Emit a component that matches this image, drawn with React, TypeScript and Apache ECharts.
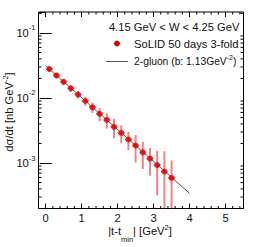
import React, { useEffect, useRef } from "react";
import * as echarts from "echarts";

// ---- data ----
const T_VALUES = [0.1, 0.3, 0.5, 0.7, 0.9, 1.1, 1.3, 1.5, 1.7, 1.9, 2.1, 2.3, 2.5, 2.7, 2.9, 3.1, 3.3, 3.5];
const DSDT = [0.0279, 0.0222, 0.0177, 0.0141, 0.0113, 0.009, 0.0072, 0.0057, 0.0046, 0.0036, 0.0029, 0.0023, 0.00186, 0.00146, 0.00117, 0.00093, 0.00074, 0.00059];
const DSDT_ERR = [0.0028, 0.0023, 0.0019, 0.0017, 0.0015, 0.0014, 0.0013, 0.0013, 0.0012, 0.0012, 0.00088, 0.00072, 0.00084, 0.00065, 0.00053, 0.00061, 0.00078, 0.0005];
const T_ERR = [0.1, 0.1, 0.1, 0.1, 0.1, 0.1, 0.1, 0.1, 0.1, 0.1, 0.1, 0.1, 0.1, 0.1, 0.1, 0.1, 0.1, 0.1];

const FIT_T = [0, 4];
const FIT_Y = [0.0313, 0.000342];

const X_MAJOR = [0, 1, 2, 3, 4, 5];
const X_MINOR = [-0.2, 0.2, 0.4, 0.6, 0.8, 1.2, 1.4, 1.6, 1.8, 2.2, 2.4, 2.6, 2.8, 3.2, 3.4, 3.6, 3.8, 4.2, 4.4, 4.6, 4.8, 5.2, 5.4];
const Y_MINOR = [
  0.0002, 0.0003, 0.0004, 0.0005, 0.0006, 0.0007, 0.0008, 0.0009,
  0.002, 0.003, 0.004, 0.005, 0.006, 0.007, 0.008, 0.009,
  0.02, 0.03, 0.04, 0.05, 0.06, 0.07, 0.08, 0.09, 0.2,
];

const XMIN = -0.2;
const XMAX = 5.5;
const YMIN = 0.0002;
const YMAX = 0.21;

const FONT = "'Liberation Sans', Arial, Helvetica, sans-serif";
const TXT = "#111";
const FS = 11.2;

const mainSt = (fs: number) => ({ fontSize: fs, fill: TXT, color: TXT, fontFamily: FONT, verticalAlign: "middle" });
const main = mainSt(FS);
const sup = (shift: number, fs = 7.5) => ({ fontSize: fs, fill: TXT, color: TXT, fontFamily: FONT, verticalAlign: "middle", padding: [0, 0, shift * 2, 0] });
const sub = (shift: number) => ({ fontSize: 7.5, fill: TXT, color: TXT, fontFamily: FONT, verticalAlign: "middle", padding: [shift * 2, 0, 0, 0] });

export default function App() {
  const ref = useRef<HTMLDivElement>(null);

  useEffect(() => {
    if (!ref.current) return;
    const chart = echarts.init(ref.current, null, { renderer: "svg" });

    const errData = T_VALUES.map((t, i) => [t, DSDT[i], DSDT_ERR[i], T_ERR[i]]);
    const pts = T_VALUES.map((t, i) => [t, DSDT[i]]);
    const fit = FIT_T.map((t, i) => [t, FIT_Y[i]]);

    const option: any = {
      animation: false,
      textStyle: { fontFamily: FONT },
      grid: {
        left: 38.5,
        right: 13.5,
        top: 12,
        bottom: 38.5,
        show: true,
        borderColor: "#000",
        borderWidth: 1,
        backgroundColor: "transparent",
      },
      xAxis: [
        {
          type: "value",
          position: "bottom",
          min: XMIN,
          max: XMAX,
          axisLine: { show: false },
          splitLine: { show: false },
          axisTick: { inside: true, length: 5, customValues: X_MAJOR, lineStyle: { color: "#000" } },
          axisLabel: { customValues: X_MAJOR, fontSize: FS, color: TXT, margin: 4, fontFamily: FONT },
        },
        {
          type: "value",
          position: "top",
          min: XMIN,
          max: XMAX,
          axisLine: { show: false },
          splitLine: { show: false },
          axisTick: { inside: true, length: 5, customValues: X_MAJOR, lineStyle: { color: "#000" } },
          axisLabel: { show: false },
        },
      ],
      yAxis: [
        {
          type: "log",
          logBase: 10,
          position: "left",
          min: YMIN,
          max: YMAX,
          axisLine: { show: false },
          splitLine: { show: false },
          axisTick: { inside: true, length: 6, lineStyle: { color: "#000" } },
          axisLabel: {
            showMinLabel: false,
            showMaxLabel: false,
            margin: 3,
            formatter: (v: number) => `{b|10}{s|-${Math.abs(Math.round(Math.log10(v)))}}`,
            rich: { b: main, s: sup(5) },
          },
        },
        {
          type: "log",
          logBase: 10,
          position: "right",
          min: YMIN,
          max: YMAX,
          axisLine: { show: false },
          splitLine: { show: false },
          axisTick: { inside: true, length: 6, lineStyle: { color: "#000" } },
          axisLabel: { show: false },
        },
      ],
      graphic: [
        {
          type: "text",
          x: 140,
          y: 231,
          style: {
            text: "{m||t-t}{b|min}{m|| [GeV}{s|2}{m|]}",
            align: "center",
            verticalAlign: "middle",
            rich: { m: main, b: sub(8.5), s: sup(4) },
          },
        },
        {
          type: "text",
          x: 9,
          y: 112,
          rotation: Math.PI / 2,
          style: {
            text: "{m|dσ/dt [nb GeV}{s|-2}{m|]}",
            align: "center",
            verticalAlign: "middle",
            rich: { m: main, s: sup(4) },
          },
        },
        {
          type: "text",
          x: 239.5,
          y: 27,
          style: { text: "4.15 GeV < W < 4.25 GeV", fill: TXT, font: `${FS}px ${FONT}`, align: "right", verticalAlign: "middle" },
        },
        {
          type: "circle",
          shape: { cx: 117, cy: 43.5, r: 3 },
          style: { fill: "#dd0000" },
        },
        {
          type: "text",
          x: 134,
          y: 43.5,
          style: { text: "SoLID 50 days 3-fold", fill: TXT, font: `${FS}px ${FONT}`, align: "left", verticalAlign: "middle" },
        },
        {
          type: "line",
          shape: { x1: 106, y1: 61.5, x2: 128, y2: 61.5 },
          style: { stroke: "#555", lineWidth: 1 },
        },
        {
          type: "text",
          x: 134,
          y: 61.5,
          style: {
            text: "{m|2-gluon (b: 1.13GeV}{s|-2}{m|)}",
            align: "left",
            verticalAlign: "middle",
            rich: { m: mainSt(10.3), s: sup(4, 7) },
          },
        },
      ],
      series: [
        {
          type: "custom",
          name: "yminor",
          xAxisIndex: 0,
          yAxisIndex: 0,
          data: Y_MINOR.map((v) => [1, v]),
          silent: true,
          renderItem: (params: any, api: any) => {
            const v = api.value(1);
            const pl = api.coord([XMIN, v]);
            const pr = api.coord([XMAX, v]);
            return {
              type: "group",
              children: [
                { type: "line", shape: { x1: pl[0], y1: pl[1], x2: pl[0] + 3, y2: pl[1] }, style: { stroke: "#000", lineWidth: 1 } },
                { type: "line", shape: { x1: pr[0], y1: pr[1], x2: pr[0] - 3, y2: pr[1] }, style: { stroke: "#000", lineWidth: 1 } },
              ],
            };
          },
        },
        {
          type: "custom",
          name: "xminor",
          xAxisIndex: 0,
          yAxisIndex: 0,
          data: X_MINOR.map((v) => [v, 0.01]),
          silent: true,
          renderItem: (params: any, api: any) => {
            const v = api.value(0);
            const pb = api.coord([v, YMIN]);
            const pt = api.coord([v, YMAX]);
            return {
              type: "group",
              children: [
                { type: "line", shape: { x1: pb[0], y1: pb[1], x2: pb[0], y2: pb[1] - 2.5 }, style: { stroke: "#000", lineWidth: 1 } },
                { type: "line", shape: { x1: pt[0], y1: pt[1], x2: pt[0], y2: pt[1] + 2.5 }, style: { stroke: "#000", lineWidth: 1 } },
              ],
            };
          },
        },
        {
          type: "line",
          name: "2-gluon",
          data: fit,
          showSymbol: false,
          symbol: "none",
          lineStyle: { color: "#555", width: 1 },
          silent: true,
          z: 3,
        },
        {
          type: "custom",
          name: "errors",
          data: errData,
          silent: true,
          z: 4,
          renderItem: (params: any, api: any) => {
            const t = api.value(0);
            const v = api.value(1);
            const e = api.value(2);
            const te = api.value(3);
            const hi = Math.min(v + e, YMAX);
            const lo = Math.max(v - e, YMIN);
            const pTop = api.coord([t, hi]);
            const pBot = api.coord([t, lo]);
            const pL = api.coord([t - te, v]);
            const pR = api.coord([t + te, v]);
            const st = { stroke: "rgba(225,30,30,0.55)", lineWidth: 2 };
            return {
              type: "group",
              children: [
                { type: "line", shape: { x1: pTop[0], y1: pTop[1], x2: pBot[0], y2: pBot[1] }, style: st },
                { type: "line", shape: { x1: pL[0], y1: pL[1], x2: pR[0], y2: pR[1] }, style: st },
              ],
            };
          },
        },
        {
          type: "scatter",
          name: "SoLID 50 days 3-fold",
          data: pts,
          symbol: "circle",
          symbolSize: 6,
          itemStyle: { color: "#dd0000" },
          silent: true,
          z: 5,
        },
      ],
    };

    chart.setOption(option);
    return () => chart.dispose();
  }, []);

  return (
    <div
      ref={ref}
      style={{ position: "fixed", left: 0, top: 0, width: 257, height: 247, background: "#fff" }}
    />
  );
}
